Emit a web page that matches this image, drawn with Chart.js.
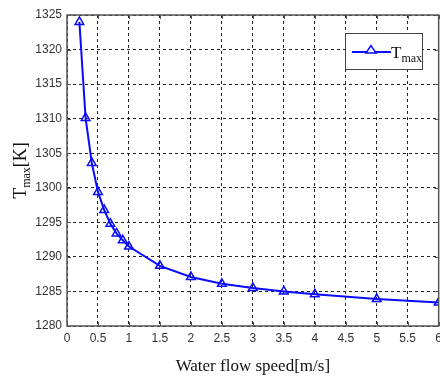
<!DOCTYPE html>
<html>
<head>
<meta charset="utf-8">
<script src="https://cdn.jsdelivr.net/npm/chart.js@4.4.0/dist/chart.umd.min.js"></script>
<style>
html, body { margin: 0; padding: 0; background: #fff; overflow: hidden; width: 440px; height: 378px; }
#wrap { width: 460px; height: 378px; position: relative; }
canvas { display: block; }
</style>
</head>
<body>
<div id="wrap"><canvas id="c" width="440" height="378"></canvas></div>
<script>
// water flow speed [m/s]
let speed = [0.2, 0.3, 0.4, 0.5, 0.6, 0.7, 0.8, 0.9, 1.0, 1.5, 2.0, 2.5, 3.0, 3.5, 4.0, 5.0, 6.0];
// maximum temperature [K]
let tmax = [1324.0, 1310.1, 1303.6, 1299.4, 1296.8, 1294.8, 1293.4, 1292.4, 1291.5, 1288.7, 1287.1, 1286.1, 1285.5, 1285.0, 1284.6, 1283.9, 1283.4];
let xTicks = [0, 0.5, 1, 1.5, 2, 2.5, 3, 3.5, 4, 4.5, 5, 5.5, 6];
let yTicks = [1280, 1285, 1290, 1295, 1300, 1305, 1310, 1315, 1320, 1325];

let blue = '#0a0aff';
let serif = '"Liberation Serif", "Times New Roman", serif';
let sans = '"Liberation Sans", Arial, sans-serif';

// frame, inward ticks, titles with subscript and the legend box
let decorations = {
    id: 'decorations',
    afterDraw(chart) {
        let ctx = chart.ctx;
        let a = chart.chartArea;
        let xs = chart.scales.x, ys = chart.scales.y;
        ctx.save();
        // frame
        ctx.strokeStyle = '#555';
        ctx.lineWidth = 1.5;
        ctx.setLineDash([]);
        ctx.strokeRect(a.left, a.top, a.right - a.left, a.bottom - a.top);
        // inward ticks
        ctx.lineWidth = 1;
        ctx.beginPath();
        for (let v of xTicks) {
            let px = Math.round(xs.getPixelForValue(v)) + 0.5;
            ctx.moveTo(px, a.bottom); ctx.lineTo(px, a.bottom - 4);
            ctx.moveTo(px, a.top); ctx.lineTo(px, a.top + 4);
        }
        for (let v of yTicks) {
            let py = Math.round(ys.getPixelForValue(v)) + 0.5;
            ctx.moveTo(a.left, py); ctx.lineTo(a.left + 4, py);
            ctx.moveTo(a.right, py); ctx.lineTo(a.right - 4, py);
        }
        ctx.stroke();

        // y title: T_max[K]
        ctx.fillStyle = '#111';
        ctx.translate(26, (a.top + a.bottom) / 2);
        ctx.rotate(-Math.PI / 2);
        ctx.textBaseline = 'alphabetic';
        ctx.font = '18px ' + serif;
        let w1 = ctx.measureText('T').width;
        ctx.font = '12px ' + serif;
        let w2 = ctx.measureText('max').width;
        ctx.font = '18px ' + serif;
        let w3 = ctx.measureText('[K]').width;
        let x0 = -(w1 + w2 + w3) / 2;
        ctx.fillText('T', x0, 0);
        ctx.font = '12px ' + serif;
        ctx.fillText('max', x0 + w1, 4);
        ctx.font = '18px ' + serif;
        ctx.fillText('[K]', x0 + w1 + w2, 0);
        ctx.restore();

        // x title
        ctx.save();
        ctx.fillStyle = '#111';
        ctx.font = '17px ' + serif;
        ctx.textAlign = 'center';
        ctx.textBaseline = 'alphabetic';
        ctx.fillText('Water flow speed[m/s]', (a.left + a.right) / 2, 371);
        ctx.restore();

        // legend
        ctx.save();
        ctx.fillStyle = '#fff';
        ctx.fillRect(345, 33, 77, 36);
        ctx.strokeStyle = '#444';
        ctx.lineWidth = 1;
        ctx.strokeRect(345.5, 33.5, 77, 36);
        ctx.strokeStyle = blue;
        ctx.lineWidth = 2;
        ctx.beginPath();
        ctx.moveTo(352, 52); ctx.lineTo(391, 52);
        ctx.stroke();
        ctx.lineWidth = 1.5;
        ctx.beginPath();
        ctx.moveTo(371, 45.5); ctx.lineTo(366, 53); ctx.lineTo(376, 53); ctx.closePath();
        ctx.fillStyle = '#fff';
        ctx.fill();
        ctx.stroke();
        ctx.fillStyle = '#111';
        ctx.font = '17px ' + serif;
        ctx.fillText('T', 391, 58);
        let tw = ctx.measureText('T').width;
        ctx.font = '12px ' + serif;
        ctx.fillText('max', 391 + tw, 62);
        ctx.restore();
    }
};

let canvas = document.getElementById('c');

function makeChart() {
    return new Chart(canvas, {
        type: 'scatter',
        data: {
            datasets: [
                {
                    label: 'Tmax',
                    data: speed.map((s, i) => ({ x: s, y: tmax[i] })),
                    showLine: true,
                    borderColor: blue,
                    borderWidth: 2,
                    tension: 0,
                    pointStyle: 'triangle',
                    pointRadius: 5,
                    pointBorderWidth: 1.5,
                    pointBorderColor: blue,
                    pointBackgroundColor: 'rgba(255,255,255,0)'
                }
            ]
        },
        options: {
            responsive: false,
            animation: false,
            layout: { padding: { top: 15, right: 0, left: 0, bottom: 0 } },
            plugins: {
                legend: { display: false },
                tooltip: { enabled: false }
            },
            scales: {
                x: {
                    type: 'linear',
                    min: 0,
                    max: 6,
                    afterBuildTicks: (s) => { s.ticks = xTicks.map(v => ({ value: v })); },
                    afterFit: (s) => { s.height = 52; },
                    grid: { color: '#222', lineWidth: 1, drawTicks: false },
                    border: { display: false, dash: [3, 3] },
                    ticks: {
                        padding: 5,
                        color: '#333',
                        font: { family: sans, size: 12 },
                        maxRotation: 0,
                        autoSkip: false,
                        callback: (v) => String(v)
                    }
                },
                y: {
                    min: 1280,
                    max: 1325,
                    afterBuildTicks: (s) => { s.ticks = yTicks.map(v => ({ value: v })); },
                    afterFit: (s) => { s.width = 67; },
                    grid: { color: '#222', lineWidth: 1, drawTicks: false },
                    border: { display: false, dash: [3, 3] },
                    ticks: {
                        padding: 5,
                        color: '#333',
                        font: { family: sans, size: 12 },
                        autoSkip: false,
                        callback: (v) => String(v)
                    }
                }
            }
        },
        plugins: [decorations]
    });
}

let chart = makeChart();
// the plot box runs to the window's right edge and the "6" is clipped there,
// so widen the canvas past the window by the space chart.js keeps for that label
let extra = Math.round(439 - chart.chartArea.right);
if (extra > 0) {
    chart.destroy();
    canvas.width = 440 + extra;
    canvas.height = 378;
    canvas.style.width = (440 + extra) + 'px';
    canvas.style.height = '378px';
    chart = makeChart();
}
</script>
</body>
</html>
